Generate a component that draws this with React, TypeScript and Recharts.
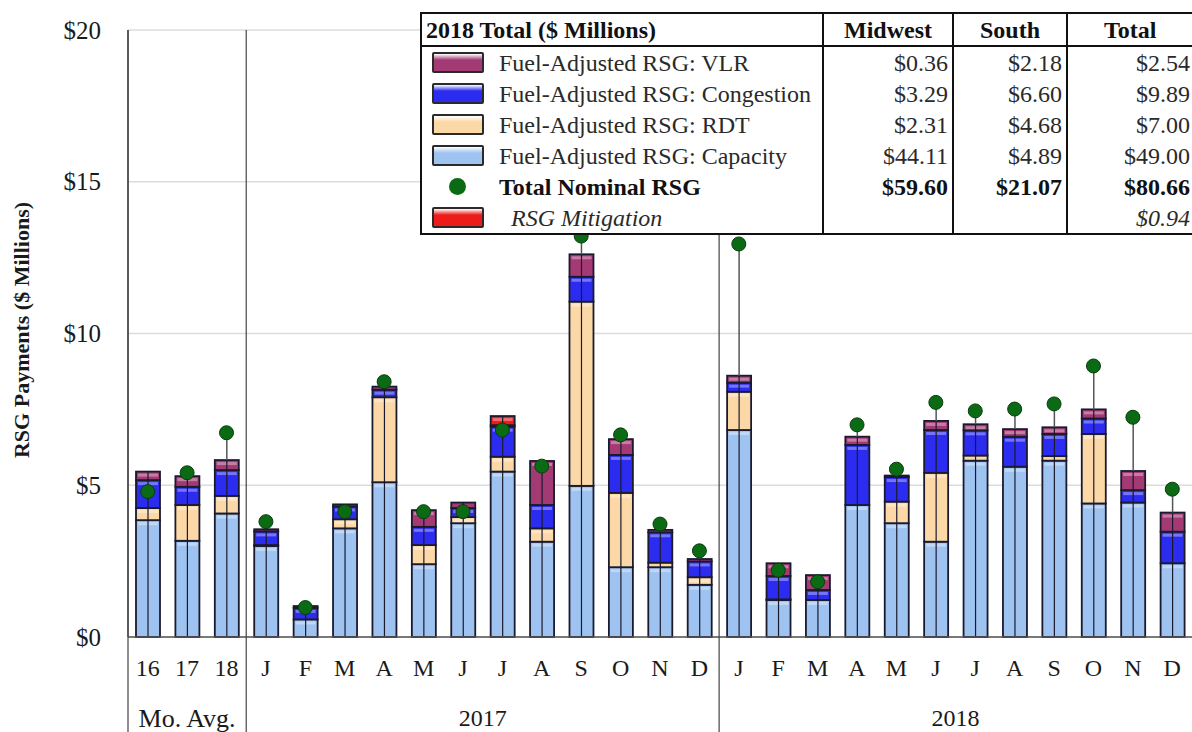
import React from "react";
import {
  ComposedChart,
  Bar,
  Line,
  XAxis,
  YAxis,
  CartesianGrid,
} from "recharts";

// categories: 3 monthly averages, then 2017 and 2018 months
const ids = [
  "avg16", "avg17", "avg18",
  "17-1", "17-2", "17-3", "17-4", "17-5", "17-6", "17-7", "17-8", "17-9", "17-10", "17-11", "17-12",
  "18-1", "18-2", "18-3", "18-4", "18-5", "18-6", "18-7", "18-8", "18-9", "18-10", "18-11", "18-12",
];
const tickLabels = [
  "16", "17", "18",
  "J", "F", "M", "A", "M", "J", "J", "A", "S", "O", "N", "D",
  "J", "F", "M", "A", "M", "J", "J", "A", "S", "O", "N", "D",
];

// $ millions
const capacity = [
  3.85, 3.17, 4.07,
  3.0, 0.58, 3.58, 5.1, 2.4, 3.75, 5.45, 3.14, 4.98, 2.3, 2.3, 1.72,
  6.82, 1.22, 1.22, 4.35, 3.75, 3.14, 5.81, 5.61, 5.81, 4.4, 4.43, 2.43,
];
const rdt = [
  0.4, 1.18, 0.58,
  0.03, 0, 0.3, 2.8, 0.63, 0.2, 0.49, 0.44, 6.07, 2.45, 0.15, 0.25,
  1.26, 0.02, 0, 0, 0.71, 2.27, 0.17, 0, 0.15, 2.29, 0, 0,
];
const congestion = [
  0.92, 0.6, 0.85,
  0.45, 0.38, 0.42, 0.25, 0.6, 0.3, 0.99, 0.77, 0.82, 1.25, 1.0, 0.52,
  0.3, 0.77, 0.33, 1.98, 0.81, 1.41, 0.83, 0.99, 0.73, 0.51, 0.41, 1.04,
];
const vlr = [
  0.28, 0.35, 0.33,
  0.07, 0.06, 0.07, 0.1, 0.55, 0.18, 0.05, 1.45, 0.74, 0.52, 0.08, 0.08,
  0.23, 0.42, 0.49, 0.27, 0.05, 0.3, 0.2, 0.25, 0.22, 0.3, 0.63, 0.63,
];
const mitigation = [
  0, 0, 0,
  0, 0, 0, 0, 0, 0, 0.3, 0, 0, 0, 0, 0,
  0, 0, 0, 0, 0, 0, 0, 0, 0, 0, 0, 0,
];
const totalNominal = [
  4.79, 5.41, 6.73,
  3.8, 0.97, 4.13, 8.41, 4.13, 4.13, 6.82, 5.63, 13.21, 6.66, 3.72, 2.84,
  12.95, 2.2, 1.82, 6.99, 5.53, 7.73, 7.45, 7.51, 7.68, 8.93, 7.24, 4.87,
];

const yTicks = [0, 5, 10, 15, 20];

// legend table (2018 totals)
const tableRows = [
  { label: "Fuel-Adjusted RSG: VLR", key: "vlr", midwest: "$0.36", south: "$2.18", total: "$2.54" },
  { label: "Fuel-Adjusted RSG: Congestion", key: "congestion", midwest: "$3.29", south: "$6.60", total: "$9.89" },
  { label: "Fuel-Adjusted RSG: RDT", key: "rdt", midwest: "$2.31", south: "$4.68", total: "$7.00" },
  { label: "Fuel-Adjusted RSG: Capacity", key: "capacity", midwest: "$44.11", south: "$4.89", total: "$49.00" },
  { label: "Total Nominal RSG", key: "nominal", midwest: "$59.60", south: "$21.07", total: "$80.66" },
  { label: "RSG Mitigation", key: "mitigation", midwest: "", south: "", total: "$0.94" },
];

const COLORS: Record<string, string> = {
  capacity: "#9ec3f0",
  rdt: "#fcd8a6",
  congestion: "#2c2cf0",
  vlr: "#a43a74",
  mitigation: "#ee1b1b",
  nominal: "#0b6b14",
};

const W = 1192;
const H = 732;
const TOP = 30;
const AXIS_Y = 637;
const LEFT = 128;
const FONT = '"Liberation Serif", "Times New Roman", serif';

const data = ids.map((id, i) => {
  const stackTop = capacity[i] + rdt[i] + congestion[i] + vlr[i] + mitigation[i];
  return {
    id,
    capacity: capacity[i],
    rdt: rdt[i],
    congestion: congestion[i],
    vlr: vlr[i],
    mitigation: mitigation[i],
    stem: Math.max(0, totalNominal[i] - stackTop),
    nominal: totalNominal[i],
  };
});

function Segment(props: any) {
  const { x, y, width, height, fill } = props;
  if (!height || height <= 0.5) return null;
  const cx = x + width / 2;
  return (
    <g>
      <rect x={x} y={y} width={width} height={height} fill={fill} stroke="#1a1a2e" strokeWidth={1.8} />
      {height > 6 && (
        <rect x={x + 2} y={y + 2} width={width - 4} height={3} fill="#ffffff" opacity={0.35} />
      )}
      <line x1={cx} x2={cx} y1={y} y2={y + height} stroke="#1a1a2e" strokeWidth={1.2} />
    </g>
  );
}

function Stem(props: any) {
  const { x, y, width, height } = props;
  if (!height || height <= 0) return null;
  const cx = x + width / 2;
  return <line x1={cx} x2={cx} y1={y} y2={y + height} stroke="#555" strokeWidth={1.5} />;
}

function XTick(props: any) {
  const { x, payload } = props;
  const i = ids.indexOf(payload.value);
  const half = (W - LEFT) / ids.length / 2;
  return (
    <g>
      <text x={x} y={668} textAnchor="middle" dominantBaseline="central" fontSize={24} fill="#1a1a1a">
        {tickLabels[i]}
      </text>
      {i === 1 && (
        <text x={x} y={718} textAnchor="middle" dominantBaseline="central" fontSize={26} fill="#1a1a1a">
          Mo. Avg.
        </text>
      )}
      {(i === 8 || i === 20) && (
        <text x={x + half} y={718} textAnchor="middle" dominantBaseline="central" fontSize={24} fill="#1a1a1a">
          {i === 8 ? "2017" : "2018"}
        </text>
      )}
      {(i === 0 || i === 3 || i === 15) && (
        <line x1={x - half} x2={x - half} y1={TOP} y2={H} stroke="#444" strokeWidth={1.2} />
      )}
    </g>
  );
}

function YTick(props: any) {
  const { y, payload } = props;
  return (
    <text x={101} y={y} textAnchor="end" dominantBaseline="central" fontSize={25} fill="#1a1a1a">
      {`$${payload.value}`}
    </text>
  );
}

function YLabel() {
  return (
    <text
      transform="translate(21,330) rotate(-90)"
      textAnchor="middle"
      dominantBaseline="central"
      fontSize={22}
      fontWeight="bold"
      fill="#1a1a1a"
    >
      RSG Payments ($ Millions)
    </text>
  );
}

function Swatch({ color }: { color: string }) {
  return (
    <div
      style={{
        width: 48,
        height: 17,
        border: "2px solid #2a2a2a",
        borderRadius: 2,
        background: `linear-gradient(to bottom, rgba(255,255,255,0.35) 0%, ${color} 35%, ${color} 100%)`,
      }}
    />
  );
}

function LegendTable() {
  const cell: React.CSSProperties = {
    padding: "0 4px",
    textAlign: "right",
    borderLeft: "2px solid #111",
    height: 31,
    whiteSpace: "nowrap",
  };
  return (
    <table
      style={{
        position: "absolute",
        left: 420,
        top: 12,
        width: 782,
        borderCollapse: "collapse",
        tableLayout: "fixed",
        background: "#fff",
        border: "2px solid #111",
        fontFamily: FONT,
        fontSize: 24,
        color: "#2a2a2a",
        lineHeight: 1,
      }}
    >
      <colgroup>
        <col style={{ width: 402 }} />
        <col style={{ width: 130 }} />
        <col style={{ width: 114 }} />
        <col style={{ width: 136 }} />
      </colgroup>
      <thead>
        <tr style={{ height: 30, borderBottom: "2px solid #111", fontWeight: "bold", color: "#111" }}>
          <td style={{ padding: "0 4px", whiteSpace: "nowrap" }}>2018 Total ($ Millions)</td>
          <td style={{ ...cell, textAlign: "center" }}>Midwest</td>
          <td style={{ ...cell, textAlign: "center" }}>South</td>
          <td style={{ ...cell, textAlign: "left", paddingLeft: 36 }}>Total</td>
        </tr>
      </thead>
      <tbody>
        {tableRows.map((r) => {
          const bold = r.key === "nominal";
          const italic = r.key === "mitigation";
          const rowStyle: React.CSSProperties = {
            fontWeight: bold ? "bold" : "normal",
            fontStyle: italic ? "italic" : "normal",
            color: bold ? "#111" : "#2a2a2a",
          };
          return (
            <tr key={r.key} style={rowStyle}>
              <td style={{ height: 31, padding: 0, whiteSpace: "nowrap" }}>
                <div style={{ display: "flex", alignItems: "center" }}>
                  <div style={{ width: 67, display: "flex", justifyContent: "flex-start", paddingLeft: 10 }}>
                    {r.key === "nominal" ? (
                      <div style={{ width: 17, height: 17, marginLeft: 17, borderRadius: "50%", background: COLORS.nominal }} />
                    ) : (
                      <Swatch color={COLORS[r.key]} />
                    )}
                  </div>
                  <span style={{ paddingLeft: italic ? 12 : 0 }}>{r.label}</span>
                </div>
              </td>
              <td style={cell}>{r.midwest}</td>
              <td style={cell}>{r.south}</td>
              <td style={{ ...cell, paddingRight: 12 }}>{r.total}</td>
            </tr>
          );
        })}
      </tbody>
    </table>
  );
}

export default function App() {
  return (
    <div
      style={{
        position: "absolute",
        left: 0,
        top: 0,
        width: W,
        height: H,
        overflow: "hidden",
        background: "#fff",
        fontFamily: FONT,
      }}
    >
      <ComposedChart
        width={W}
        height={H}
        data={data}
        margin={{ top: TOP, right: 0, left: 0, bottom: 0 }}
      >
        <CartesianGrid vertical={false} stroke="#dcdcdc" strokeWidth={1.5} />
        <XAxis
          dataKey="id"
          height={H - AXIS_Y}
          tick={<XTick />}
          tickLine={false}
          interval={0}
          axisLine={{ stroke: "#555", strokeWidth: 1.5 }}
        />
        <YAxis
          width={LEFT}
          domain={[0, 20]}
          ticks={yTicks}
          tick={<YTick />}
          tickLine={false}
          axisLine={{ stroke: "#555", strokeWidth: 1.5 }}
          label={<YLabel />}
        />
        <Bar dataKey="capacity" stackId="rsg" barSize={24} fill={COLORS.capacity} shape={<Segment />} isAnimationActive={false} />
        <Bar dataKey="rdt" stackId="rsg" barSize={24} fill={COLORS.rdt} shape={<Segment />} isAnimationActive={false} />
        <Bar dataKey="congestion" stackId="rsg" barSize={24} fill={COLORS.congestion} shape={<Segment />} isAnimationActive={false} />
        <Bar dataKey="vlr" stackId="rsg" barSize={24} fill={COLORS.vlr} shape={<Segment />} isAnimationActive={false} />
        <Bar dataKey="mitigation" stackId="rsg" barSize={24} fill={COLORS.mitigation} shape={<Segment />} isAnimationActive={false} />
        <Bar dataKey="stem" stackId="rsg" barSize={24} fill="none" shape={<Stem />} isAnimationActive={false} />
        <Line
          dataKey="nominal"
          stroke="none"
          dot={{ r: 7, fill: COLORS.nominal, stroke: "#083d0c", strokeWidth: 1 }}
          activeDot={false}
          isAnimationActive={false}
        />
      </ComposedChart>
      <LegendTable />
    </div>
  );
}
